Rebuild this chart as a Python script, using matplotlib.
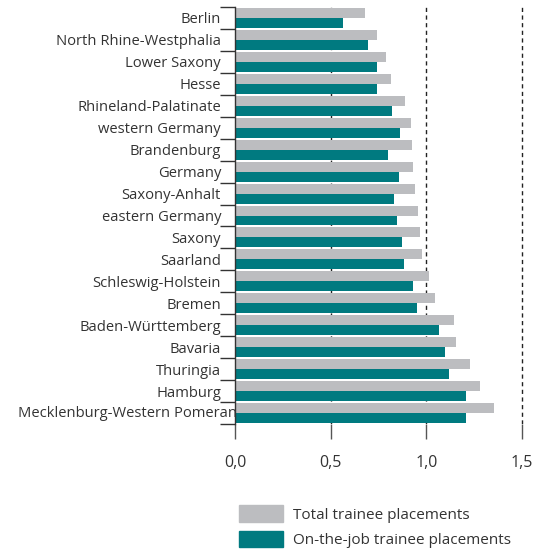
import matplotlib.pyplot as plt
from matplotlib.patches import Patch
from matplotlib.transforms import Bbox, TransformedBbox
import numpy as np

plt.rcParams['font.family'] = ['Open Sans', 'DejaVu Sans']

regions = ["Berlin", "North Rhine-Westphalia", "Lower Saxony", "Hesse",
           "Rhineland-Palatinate", "western Germany", "Brandenburg", "Germany",
           "Saxony-Anhalt", "eastern Germany", "Saxony", "Saarland",
           "Schleswig-Holstein", "Bremen", "Baden-Württemberg", "Bavaria",
           "Thuringia", "Hamburg", "Mecklenburg-Western Pomerania"]
total = [0.68, 0.74, 0.79, 0.815, 0.89, 0.92, 0.925, 0.93, 0.94, 0.955,
         0.965, 0.975, 1.015, 1.045, 1.145, 1.155, 1.23, 1.28, 1.355]
on_job = [0.565, 0.695, 0.74, 0.74, 0.82, 0.86, 0.80, 0.855, 0.83, 0.845,
          0.875, 0.885, 0.93, 0.95, 1.065, 1.10, 1.12, 1.21, 1.205]
xticks = [0.0, 0.5, 1.0, 1.5]
xlabels = ["0,0", "0,5", "1,0", "1,5"]

grey = "#bcbdc0"
teal = "#007a80"
txt = "#333333"
fs = 10.6

W, H = 543, 549
fig = plt.figure(figsize=(W / 100, H / 100), dpi=100)
ax = fig.add_axes([235 / W, 1 - 424 / H, 1 - 235 / W, (424 - 7) / H])

y = np.arange(len(regions))
h = 0.455
ax.barh(y - h / 2, total, height=h, color=grey, zorder=2)
ax.barh(y + h / 2, on_job, height=h, color=teal, zorder=2)

ax.set_ylim(len(regions) - 0.5, -0.5)
ax.set_xlim(0, (W - 235) / 191.3)

for v in xticks[1:]:
    ax.axvline(v, color="#222222", lw=1.0, ls=(0, (3, 2.5)), zorder=1)

for s in ["top", "right", "bottom"]:
    ax.spines[s].set_visible(False)
ax.spines["left"].set_color(txt)
ax.spines["left"].set_linewidth(1.0)
ax.spines["left"].set_zorder(3)

ax.set_xticks(xticks)
ax.set_xticklabels(xlabels, fontsize=11.5, color=txt)
ax.tick_params(axis="x", length=10.5, width=1.0, color="#555555", pad=12)

ax.set_yticks(y)
labels = list(regions)
labels[-1] = ""
ax.set_yticklabels(labels, fontsize=fs, color=txt)
ax.tick_params(axis="y", which="major", length=0, pad=10)
ax.set_yticks(np.arange(len(regions) + 1) - 0.5, minor=True)
ax.tick_params(axis="y", which="minor", length=11, width=1.0, color=txt)

# the last label runs under the bars in the original
yl = ax.transData.transform((0, y[-1]))[1]
t = fig.text(18 / W, fig.transFigure.inverted().transform((0, yl))[1],
             regions[-1], ha="left", va="center", fontsize=fs, color=txt)
t.set_clip_box(TransformedBbox(Bbox([[0, 0], [235 / W, 1]]), fig.transFigure))
t.set_clip_on(True)

handles = [Patch(color=grey, label="Total trainee placements"),
           Patch(color=teal, label="On-the-job trainee placements")]
fig.legend(handles=handles, loc="lower left", bbox_to_anchor=(239 / W, 1 / H),
           frameon=False, fontsize=11, handlelength=2.88, handleheight=1.31,
           labelspacing=0.52, handletextpad=0.65, labelcolor=txt,
           borderpad=0, borderaxespad=0)

fig.savefig("out.png", dpi=100)
